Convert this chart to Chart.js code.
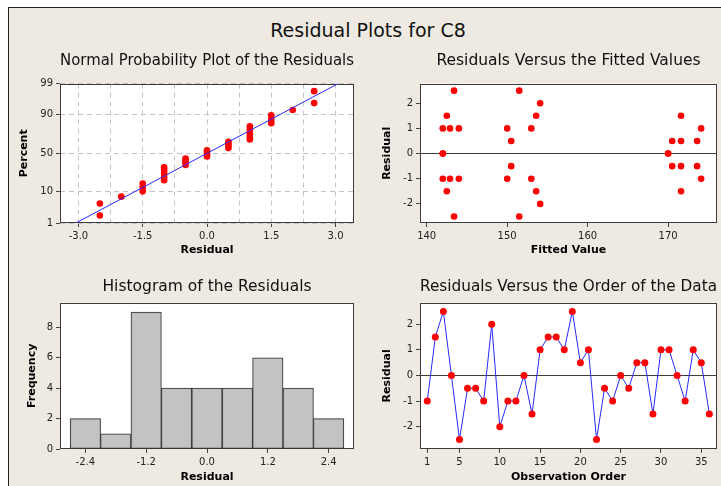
<!DOCTYPE html>
<html>
<head>
<meta charset="utf-8">
<title>Residual Plots for C8</title>
<script src="https://cdn.jsdelivr.net/npm/chart.js@4.4.1/dist/chart.umd.min.js"></script>
<style>
  html, body { margin: 0; padding: 0; background: #fff; }
  body { width: 721px; height: 486px; overflow: hidden; position: relative; font-family: "DejaVu Sans", sans-serif; }
  #frame { position: absolute; left: 8px; top: 7px; width: 720px; height: 486px; background: #eeeae2; border-left: 1px solid #222; border-top: 1px solid #222; }
  #mainTitle { position: absolute; left: 0; top: 19px; width: 736px; line-height: 22px; text-align: center; font-size: 19px; color: #111; }
  .panel { position: absolute; }
</style>
</head>
<body>
<div id="frame"></div>
<div id="mainTitle">Residual Plots for C8</div>
<canvas id="nppChart" class="panel" width="360" height="222" style="left:8px;top:44px"></canvas>
<canvas id="fitChart" class="panel" width="349" height="222" style="left:372px;top:44px"></canvas>
<canvas id="histChart" class="panel" width="360" height="218" style="left:8px;top:268px"></canvas>
<canvas id="orderChart" class="panel" width="349" height="218" style="left:372px;top:268px"></canvas>

<script>
// === Data ===
// residuals in observation order
const orderResid = [-1, 1.5, 2.5, 0, -2.5, -0.5, -0.5, -1, 2, -2, -1, -1, 0, -1.5, 1, 1.5, 1.5, 1,
  2.5, 0.5, 1, -2.5, -0.5, -1, 0, -0.5, 0.5, 0.5, -1.5, 1, 1, 0, -1, 1, 0.5, -1.5];

// residuals vs fitted values
const fittedVals = [142, 142, 142, 142, 142.5, 142.5, 142.9, 142.9, 143.4, 143.4, 144, 144,
  150, 150, 150.5, 150.5, 151.5, 151.5, 153, 153, 153.6, 153.6, 154.1, 154.1,
  170, 170, 170.5, 170.5, 171.6, 171.6, 171.6, 171.6, 173.6, 173.6, 174.1, 174.1];
const fittedResid = [1, 0, 0, -1, 1.5, -1.5, 1, -1, 2.5, -2.5, 1, -1,
  1, -1, 0.5, -0.5, 2.5, -2.5, 1, -1, 1.5, -1.5, 2, -2,
  0, 0, 0.5, -0.5, 1.5, 0.5, -0.5, -1.5, 0.5, -0.5, 1, -1];

// normal probability plot (sorted residuals and their percent)
const nppResid = [-2.5, -2.5, -2, -1.5, -1.5, -1.5, -1, -1, -1, -1, -1, -1,
  -0.5, -0.5, -0.5, -0.5, 0, 0, 0, 0, 0.5, 0.5, 0.5, 0.5,
  1, 1, 1, 1, 1, 1, 1.5, 1.5, 1.5, 2, 2.5, 2.5];
const nppPct = [1.9, 4.7, 7.4, 10.2, 12.9, 15.7, 18.4, 21.2, 23.9, 26.6, 29.4, 32.1,
  34.9, 37.6, 40.4, 43.1, 45.9, 48.6, 51.4, 54.1, 56.9, 59.6, 62.4, 65.1,
  67.9, 70.6, 73.4, 76.1, 78.8, 81.6, 84.3, 87.1, 89.8, 92.6, 95.3, 98.1];
const fitLineResid = [-3.06, 3.06];
const fitLinePct = [1, 99];

// histogram
const histMid = [-2.4, -1.8, -1.2, -0.6, 0, 0.6, 1.2, 1.8, 2.4];
const histFreq = [2, 1, 9, 4, 4, 4, 6, 4, 2];

// tick labels
const nppResidTicks = [-3, -2.25, -1.5, -0.75, 0, 0.75, 1.5, 2.25, 3];
const nppPctTicks = [1, 10, 50, 90, 99];
const fitTicks = [140, 150, 160, 170];
const residTicks = [-2, -1, 0, 1, 2];
const histTicks = [-2.4, -1.2, 0, 1.2, 2.4];
const freqTicks = [0, 2, 4, 6, 8];
const orderTicks = [1, 5, 10, 15, 20, 25, 30, 35];

// === Probability scale ===
function probit(p) {
  const q = p < 0.5 ? p : 1 - p;
  const t = Math.sqrt(-2 * Math.log(q));
  const z = t - (2.515517 + 0.802853 * t + 0.010328 * t * t) /
    (1 + 1.432788 * t + 0.189269 * t * t + 0.001308 * t * t * t);
  return p < 0.5 ? -z : z;
}

class ProbitScale extends Chart.LinearScale {
  getPixelForValue(value) {
    if (value === null || value === undefined) return NaN;
    const lo = probit(this.min / 100);
    const hi = probit(this.max / 100);
    return this.getPixelForDecimal((probit(value / 100) - lo) / (hi - lo));
  }
}
ProbitScale.id = "probit";
ProbitScale.defaults = Chart.LinearScale.defaults;
Chart.register(ProbitScale);

// === Common look ===
const TICK_FONT = { family: "DejaVu Sans", size: 10 };
const AXIS_FONT = { family: "DejaVu Sans", size: 11, weight: "bold" };
const RED = "#ff0000";

// white plot area with a dark frame
const plotFrame = {
  id: "plotFrame",
  beforeDraw(chart) {
    const { ctx, chartArea: a } = chart;
    ctx.save();
    ctx.fillStyle = "#ffffff";
    ctx.fillRect(a.left, a.top, a.width, a.height);
    ctx.restore();
  },
  beforeDatasetsDraw(chart) {
    const { ctx, chartArea: a } = chart;
    ctx.save();
    ctx.strokeStyle = "#3c3c3c";
    ctx.lineWidth = 1;
    ctx.strokeRect(Math.round(a.left) + 0.5, Math.round(a.top) + 0.5,
      Math.round(a.width) - 1, Math.round(a.height) - 1);
    ctx.restore();
  },
};

function fixTicks(values) {
  return (scale) => { scale.ticks = values.map((v) => ({ value: v })); };
}

function xAxis(opts) {
  return {
    type: "linear",
    min: opts.min,
    max: opts.max,
    offset: false,
    afterBuildTicks: fixTicks(opts.ticks),
    afterFit: (s) => { s.height = opts.height; },
    border: { display: false, dash: opts.dash || [] },
    grid: {
      offset: false,
      drawOnChartArea: !!opts.gridColor,
      color: opts.gridColor || "transparent",
      tickLength: 4,
      tickColor: opts.tickColor || "#444",
    },
    ticks: {
      autoSkip: false,
      maxRotation: 0,
      padding: 3,
      color: "#222",
      font: TICK_FONT,
      callback: opts.label,
    },
    title: {
      display: true,
      text: opts.title,
      color: "#000",
      font: AXIS_FONT,
      padding: { top: 0, bottom: opts.titlePad },
    },
  };
}

function yAxis(opts) {
  return {
    type: opts.type || "linear",
    min: opts.min,
    max: opts.max,
    afterBuildTicks: fixTicks(opts.ticks),
    afterFit: (s) => { s.width = opts.width; },
    border: { display: false, dash: opts.dash || [] },
    grid: {
      color: opts.gridColor || "transparent",
      tickLength: 4,
      tickColor: "#444",
    },
    ticks: {
      padding: 3,
      color: "#222",
      font: TICK_FONT,
      callback: opts.label,
    },
    title: {
      display: true,
      text: opts.title,
      color: "#000",
      font: AXIS_FONT,
      padding: { top: opts.titlePad, bottom: 0 },
    },
  };
}

function baseOptions(title, titlePad, rightPad, scales) {
  return {
    responsive: false,
    animation: false,
    events: [],
    layout: { padding: { left: 0, right: rightPad, top: 0, bottom: 0 } },
    plugins: {
      legend: { display: false },
      tooltip: { enabled: false },
      title: {
        display: true,
        text: title,
        fullSize: false,
        color: "#111",
        font: { family: "DejaVu Sans", size: 15.5, weight: "normal" },
        padding: titlePad,
      },
    },
    scales,
  };
}

const zeroLine = (c) => (c.tick && c.tick.value === 0 ? "#3c3c3c" : "transparent");

// === Normal Probability Plot ===
function renderNpp() {
  const labeled = (v) => Math.abs(v / 1.5 - Math.round(v / 1.5)) < 1e-6;
  new Chart(document.getElementById("nppChart"), {
    type: "scatter",
    data: {
      datasets: [
        {
          data: fitLineResid.map((x, i) => ({ x, y: fitLinePct[i] })),
          showLine: true,
          borderColor: "#2a2aff",
          borderWidth: 1,
          pointRadius: 0,
        },
        {
          data: nppResid.map((x, i) => ({ x, y: nppPct[i] })),
          pointRadius: 3.3,
          pointBackgroundColor: RED,
          pointBorderWidth: 0,
        },
      ],
    },
    options: baseOptions("Normal Probability Plot of the Residuals", { top: 8, bottom: 13 }, 14, {
      x: xAxis({
        min: -3.43, max: 3.43, ticks: nppResidTicks, height: 43, title: "Residual", titlePad: 9,
        dash: [5, 4], gridColor: "#c4c4c4",
        tickColor: (c) => (c.tick && labeled(c.tick.value) ? "#444" : "transparent"),
        label: (v) => (labeled(v) ? Number(v).toFixed(1) : ""),
      }),
      y: yAxis({
        type: "probit", min: 1, max: 99, ticks: nppPctTicks, width: 52, title: "Percent", titlePad: 9.4,
        dash: [5, 4], gridColor: "#c4c4c4",
        label: (v) => String(v),
      }),
    }),
    plugins: [plotFrame],
  });
}

// === Residuals vs Fitted Values ===
function renderFits() {
  new Chart(document.getElementById("fitChart"), {
    type: "scatter",
    data: {
      datasets: [{
        data: fittedVals.map((x, i) => ({ x, y: fittedResid[i] })),
        pointRadius: 3.3,
        pointBackgroundColor: RED,
        pointBorderWidth: 0,
      }],
    },
    options: baseOptions("Residuals Versus the Fitted Values", { top: 8, bottom: 13 }, 4, {
      x: xAxis({
        min: 139.17, max: 176.07, ticks: fitTicks, height: 43, title: "Fitted Value", titlePad: 9,
        label: (v) => String(v),
      }),
      y: yAxis({
        min: -2.76, max: 2.78, ticks: residTicks, width: 48, title: "Residual", titlePad: 8.1,
        gridColor: zeroLine,
        label: (v) => String(v),
      }),
    }),
    plugins: [plotFrame],
  });
}

// === Histogram ===
function renderHist() {
  new Chart(document.getElementById("histChart"), {
    type: "bar",
    data: {
      datasets: [{
        data: histMid.map((x, i) => ({ x, y: histFreq[i] })),
        backgroundColor: "rgba(190,190,190,0.92)",
        borderColor: "#333",
        borderWidth: 1,
        borderSkipped: false,
        barPercentage: 1,
        categoryPercentage: 1,
      }],
    },
    options: baseOptions("Histogram of the Residuals", { top: 9.4, bottom: 6.7 }, 14, {
      x: xAxis({
        min: -2.9, max: 2.9, ticks: histTicks, height: 37, title: "Residual", titlePad: 2.7,
        label: (v) => Number(v).toFixed(1),
      }),
      y: yAxis({
        min: 0, max: 9.62, ticks: freqTicks, width: 52, title: "Frequency", titlePad: 17.4,
        label: (v) => String(v),
      }),
    }),
    plugins: [plotFrame],
  });
}

// === Residuals vs Order ===
function renderOrder() {
  new Chart(document.getElementById("orderChart"), {
    type: "line",
    data: {
      datasets: [{
        data: orderResid.map((y, i) => ({ x: i + 1, y })),
        borderColor: "#2a2aff",
        borderWidth: 1,
        tension: 0,
        pointRadius: 3.5,
        pointBackgroundColor: RED,
        pointBorderWidth: 0,
      }],
    },
    options: baseOptions("Residuals Versus the Order of the Data", { top: 9.4, bottom: 6.7 }, 4, {
      x: xAxis({
        min: 0.1, max: 36.95, ticks: orderTicks, height: 37, title: "Observation Order", titlePad: 2.7,
        label: (v) => String(v),
      }),
      y: yAxis({
        min: -2.87, max: 2.84, ticks: residTicks, width: 48, title: "Residual", titlePad: 8.1,
        gridColor: zeroLine,
        label: (v) => String(v),
      }),
    }),
    plugins: [plotFrame],
  });
}

// === DOM Ready ===
document.addEventListener("DOMContentLoaded", () => {
  renderNpp();
  renderFits();
  renderHist();
  renderOrder();
});
</script>
</body>
</html>
